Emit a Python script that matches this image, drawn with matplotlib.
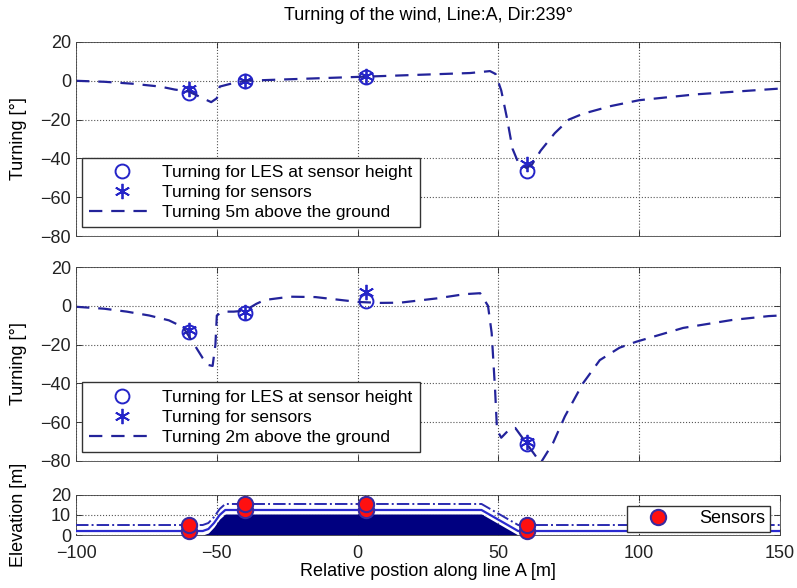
import numpy as np
import matplotlib
matplotlib.use("Agg")
import matplotlib.pyplot as plt

plt.rcParams['font.family'] = ['Liberation Sans', 'DejaVu Sans']

# ---------------- data ----------------
title = "Turning of the wind, Line:A, Dir:239\u00b0"
sensor_x = [-60, -40, 3, 60]

les_5m = [-6.5, 0, 2, -46.5]
sens_5m = [-4, 0, 2.5, -43]
line5_x = [-100, -90, -80, -70, -65, -60, -55, -52, -50, -49, -45, -40, -30, -20, -10, 0, 10, 20,
           30, 40, 47, 49, 51, 53, 55, 57, 60, 62, 65, 70, 75, 80, 90, 100, 110, 120, 130, 140, 150]
line5_y = [0, -0.5, -1.5, -3, -4.5, -5.5, -9, -11, -9, -3, -1.5, 0, 0.5, 1, 1.5, 2, 2.5, 3,
           3.5, 4, 5, 3.5, -5, -19, -35, -42, -45, -43, -36, -27, -20, -17, -13, -10, -8.5, -7, -6, -5, -4]

les_2m = [-13.5, -3.5, 2.5, -71]
sens_2m = [-12.5, -3, 7, -70]
line2_x = [-100, -90, -82, -74, -67, -62, -58, -55, -53, -51.5, -50.5, -50, -48, -44, -40, -36, -33,
           -24, -15, -6, 0, 8, 15, 28, 38, 43.5, 46.3, 47.6, 48.8, 49.5, 51, 54, 56, 61.5, 65,
           69.4, 73.6, 80, 86, 93, 99, 115.6, 133, 146, 150]
line2_y = [-0.5, -1.5, -3, -5, -7.5, -11, -20, -27, -30.5, -31, -20, -5, -3, -3, -2.5, 1, 3,
           4.7, 4.5, 3, 2, 1.5, 1.6, 3.8, 6, 6.5, 0, -14, -43, -64, -68, -63.5, -63, -74, -81,
           -70.7, -57, -40, -28, -21.6, -18.5, -11.4, -7.3, -5.3, -5]

terrain_x = [-100, -55, -53, -51, -49, -47, 44, 57, 150]
terrain_z = [0, 0, 1, 4, 8, 10.5, 10.5, 0, 0]
sensor_ground = [0, 10.5, 10.5, 0]
sensor_heights = [2, 5]

xlabel = "Relative postion along line A [m]"
ylabel_turn = "Turning [\u00b0]"
ylabel_elev = "Elevation [m]"

# ---------------- style ----------------
dash_col = '#23239a'
mark_col = '#2424c8'
fs = 13

fig = plt.figure(figsize=(7.97, 5.88), dpi=100)
L, R = 0.0954, 0.9787
ax1 = fig.add_axes([L, 0.5986, R - L, 0.9286 - 0.5986])
ax2 = fig.add_axes([L, 0.2160, R - L, 0.5459 - 0.2160])
ax3 = fig.add_axes([L, 0.0901, R - L, 0.1582 - 0.0901])


def style(ax, yticks, ylim):
    ax.set_xlim(-100, 150)
    ax.set_ylim(*ylim)
    ax.set_yticks(yticks)
    ax.set_xticks([-100, -50, 0, 50, 100, 150])
    ax.grid(True, linestyle=':', color='#555555', linewidth=0.8)
    ax.tick_params(direction='in', top=True, right=True, labelsize=fs, length=4, width=0.6,
                   colors='#222222')
    ax.tick_params(axis='x', pad=7)
    for s in ax.spines.values():
        s.set_linewidth(0.6)
        s.set_color('#444444')
    ax.set_axisbelow(True)


def turning_panel(ax, les, sens, lx, ly, lab):
    style(ax, [-80, -60, -40, -20, 0, 20], (-80, 20))
    ax.plot(sensor_x, les, linestyle='none', marker='o', markersize=10, markerfacecolor='none',
            markeredgecolor=mark_col, markeredgewidth=1.4, label="Turning for LES at sensor height")
    ax.plot(sensor_x, sens, linestyle='none', marker=(6, 2, 0), markersize=11,
            markeredgecolor=mark_col, color=mark_col, markeredgewidth=1.3, label="Turning for sensors")
    ax.plot(lx, ly, color=dash_col, linewidth=1.6, dashes=(6, 4), label=lab)
    ax.set_xticklabels([])
    ax.set_ylabel(ylabel_turn, fontsize=fs)
    ax.yaxis.set_label_coords(-0.07, 0.5)
    ax.legend(loc='lower left', bbox_to_anchor=(0.008, 0.045), borderaxespad=0, fontsize=12.5,
              fancybox=False, edgecolor='#333333', framealpha=1, handlelength=3.8,
              handletextpad=0.45, labelspacing=0.3, borderpad=0.4)


turning_panel(ax1, les_5m, sens_5m, line5_x, line5_y, "Turning 5m above the ground")
ax1.set_title(title, fontsize=fs, pad=16)
turning_panel(ax2, les_2m, sens_2m, line2_x, line2_y, "Turning 2m above the ground")

# ---------------- elevation panel ----------------
style(ax3, [0, 10, 20], (0, 20))
tz = np.array(terrain_z)
ax3.fill_between(terrain_x, 0, tz, color='#000080', linewidth=0, zorder=2)
ax3.plot(terrain_x, tz + 1, color='white', linewidth=1.2, zorder=3)
ax3.plot(terrain_x, tz + 2, color='#2a2ad0', linewidth=1.6, zorder=3)
ax3.plot(terrain_x, tz + 5, color='#2a2ab0', linewidth=1.4, linestyle='-.', zorder=3)
for sx, g in zip(sensor_x, sensor_ground):
    ax3.plot([sx] * len(sensor_heights), [g + h for h in sensor_heights], linestyle='none',
             marker='o', markersize=11, markerfacecolor='#ff1010', markeredgecolor='#3a2aa0',
             markeredgewidth=1.5, zorder=5, clip_on=False)
ax3.plot([], [], linestyle='none', marker='o', markersize=11, markerfacecolor='#ff1010',
         markeredgecolor='#3a2aa0', markeredgewidth=1.5, label='Sensors')
ax3.legend(loc='lower right', bbox_to_anchor=(0.986, 0.08), borderaxespad=0, fontsize=fs,
           fancybox=False, edgecolor='#333333', framealpha=1, handlelength=3.0,
           handletextpad=0.8, borderpad=0.25)
ax3.set_ylabel(ylabel_elev, fontsize=fs)
ax3.yaxis.set_label_coords(-0.07, 0.5)
ax3.set_xlabel(xlabel, fontsize=fs, labelpad=1)

fig.savefig('out.png', dpi=100)
